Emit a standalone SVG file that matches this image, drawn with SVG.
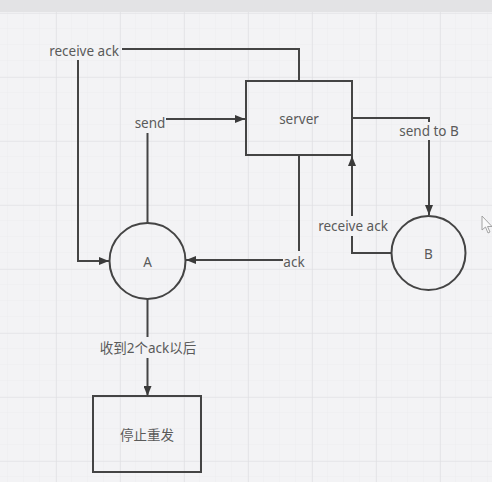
<svg xmlns="http://www.w3.org/2000/svg" width="492" height="482" viewBox="0 0 492 482">
  <defs>
    <pattern id="minor" x="8" y="13" width="16" height="16" patternUnits="userSpaceOnUse">
      <path d="M16 0V16M0 16H16" fill="none" stroke="#ececef" stroke-width="1"/>
    </pattern>
    <pattern id="major" x="56" y="13" width="64" height="64" patternUnits="userSpaceOnUse">
      <path d="M0 0V64M0 0H64" fill="none" stroke="#dedee1" stroke-width="1.2"/>
    </pattern>
    <marker id="arrow" viewBox="0 0 10 8" refX="10" refY="4" markerWidth="10" markerHeight="8" markerUnits="userSpaceOnUse" orient="auto">
      <path d="M0 0L10 4L0 8Z" fill="#3a3a3a"/>
    </marker>
  </defs>
  <style>
    .shape { fill: none; stroke: #444; stroke-width: 2; }
    .edge { fill: none; stroke: #444; stroke-width: 2; }
    .label { font-family: "Noto Sans", "Noto Sans CJK SC", sans-serif; font-size: 13.5px; fill: #5a5a5a; text-anchor: middle; dominant-baseline: central; }
  </style>

  <!-- canvas -->
  <rect width="492" height="482" fill="#f3f3f5"/>
  <rect width="492" height="482" fill="url(#minor)"/>
  <rect width="492" height="482" fill="url(#major)"/>
  <rect width="492" height="12" fill="#e3e3e5"/>

  <!-- nodes -->
  <g id="server">
    <rect class="shape" x="246" y="81" width="106" height="74"/>
    <text class="label" x="299" y="119">server</text>
  </g>
  <g id="A">
    <circle class="shape" cx="147.5" cy="261" r="38"/>
    <text class="label" x="147.5" y="262">A</text>
  </g>
  <g id="B">
    <circle class="shape" cx="428.5" cy="253" r="37"/>
    <text class="label" x="428.5" y="254">B</text>
  </g>
  <g id="stop">
    <rect class="shape" x="93" y="396" width="108" height="76"/>
    <text class="label" x="147" y="435">停止重发</text>
  </g>

  <!-- connectors -->
  <g id="connectors">
    <!-- server -> A : receive ack -->
    <path class="edge" d="M299 81V49H122"/>
    <path class="edge" d="M78 60V261H109" marker-end="url(#arrow)"/>
    <text class="label" x="84" y="51">receive ack</text>

    <!-- A -> server : send -->
    <path class="edge" d="M147.5 223V133"/>
    <path class="edge" d="M166 119H245" marker-end="url(#arrow)"/>
    <text class="label" x="150" y="123">send</text>

    <!-- server -> B : send to B -->
    <path class="edge" d="M352 118H429V122"/>
    <path class="edge" d="M429 140V215" marker-end="url(#arrow)"/>
    <text class="label" x="429" y="131">send to B</text>

    <!-- B -> server : receive ack -->
    <path class="edge" d="M391 253H352V236"/>
    <path class="edge" d="M352 216V156" marker-end="url(#arrow)"/>
    <text class="label" x="353" y="226">receive ack</text>

    <!-- server -> A : ack -->
    <path class="edge" d="M299 155V251"/>
    <path class="edge" d="M283 260H186" marker-end="url(#arrow)"/>
    <text class="label" x="294" y="262">ack</text>

    <!-- A -> stop -->
    <path class="edge" d="M147.5 299V337"/>
    <path class="edge" d="M147.5 358V396" marker-end="url(#arrow)"/>
    <text class="label" x="148" y="348">收到2个ack以后</text>
  </g>

  <!-- mouse pointer -->
  <path d="M482 216V230L485.5 227L488 233L490 232L487.5 226.5L492 226.5Z" fill="#fafafa" stroke="#9a9a9a" stroke-width="0.9" stroke-linejoin="round"/>
</svg>
